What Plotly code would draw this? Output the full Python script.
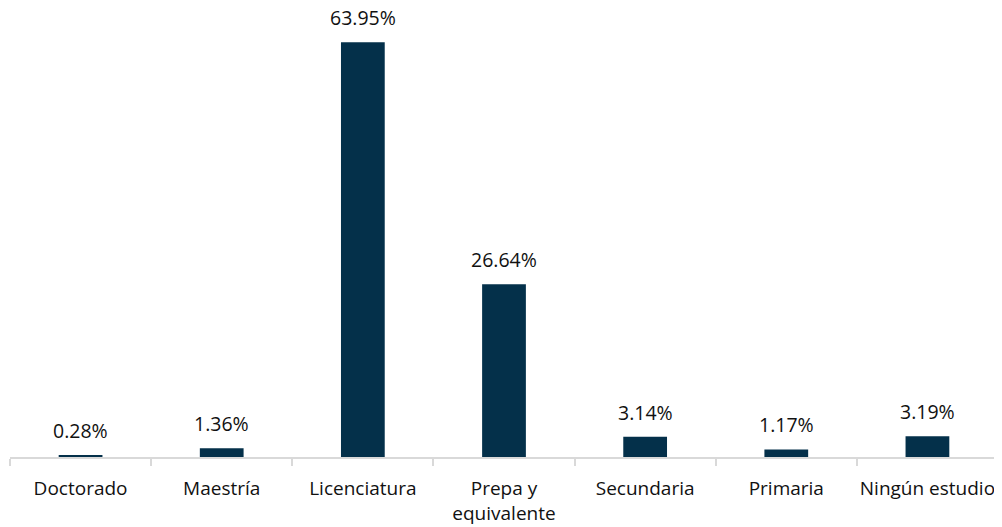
import plotly.graph_objects as go

categories = ["Doctorado", "Maestría", "Licenciatura", "Prepa y<br>equivalente",
              "Secundaria", "Primaria", "Ningún estudio"]
values = [0.28, 1.36, 63.95, 26.64, 3.14, 1.17, 3.19]
labels = [f"{v:.2f}%" for v in values]

FONT = "Open Sans"
fig = go.Figure(go.Bar(
    x=categories, y=values,
    marker=dict(color="#04304a", line=dict(width=0)),
    width=0.31,
))
for c, v, t in zip(categories, values, labels):
    fig.add_annotation(x=c, y=v, text=t, showarrow=False, yanchor="bottom",
                       yshift=10, borderpad=0,
                       font=dict(family=FONT, size=19.5, color="#111111"))
fig.update_layout(
    width=1002, height=527,
    margin=dict(l=2, r=12, t=8, b=78),
    paper_bgcolor="white", plot_bgcolor="white",
    showlegend=False,
    font=dict(family=FONT, size=19, color="#111111"),
    xaxis=dict(showline=True, linecolor="#d9d9d9", linewidth=2,
               ticks="outside", tickson="boundaries", ticklen=7,
               tickcolor="#d9d9d9", tickwidth=2, showgrid=False,
               tickangle=0, automargin=False, ticklabelstandoff=13),
    yaxis=dict(range=[0, 68], visible=False, showgrid=False),
)
fig.write_html("out.html")
